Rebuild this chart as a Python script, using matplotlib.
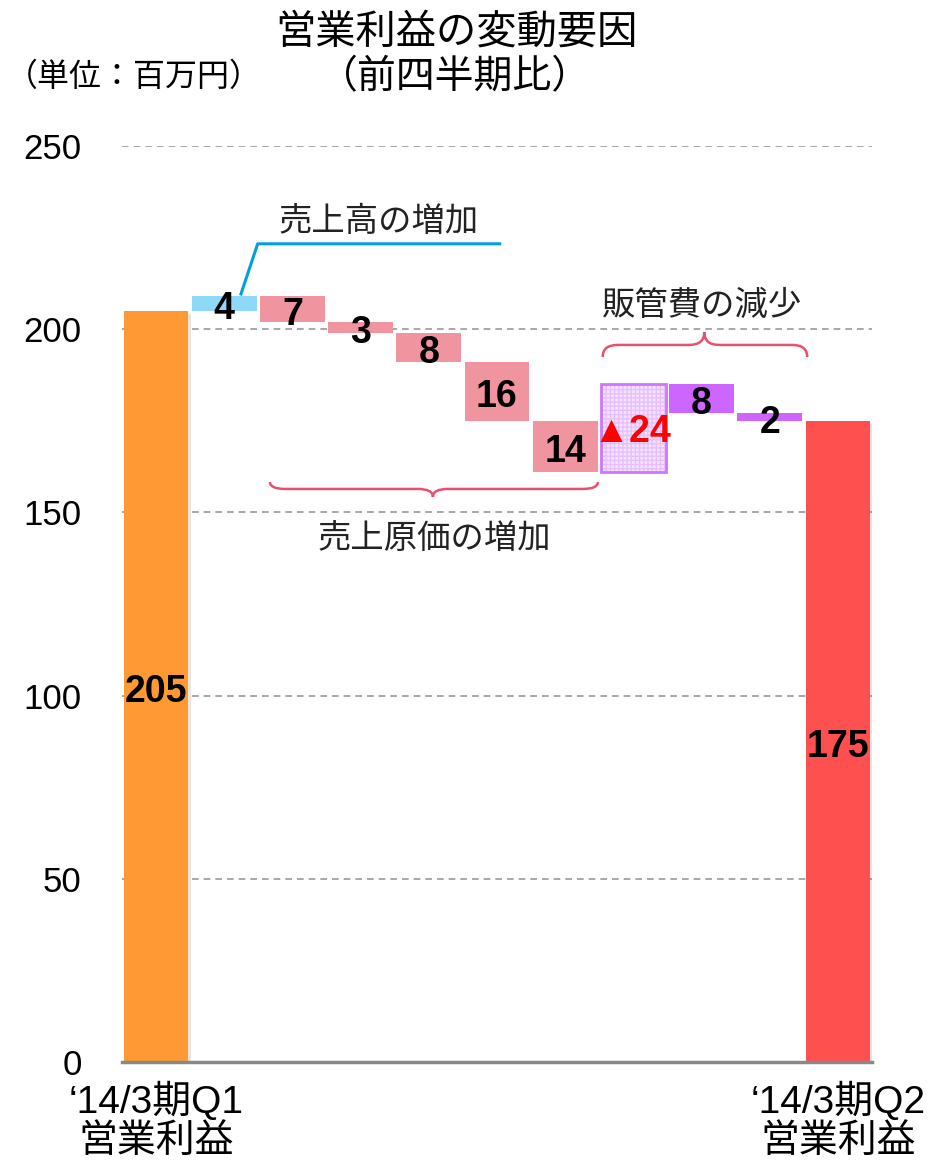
import matplotlib
matplotlib.use('Agg')
import matplotlib.pyplot as plt
import matplotlib.patheffects as pe
from matplotlib.path import Path
from matplotlib.patches import PathPatch
import numpy as np

plt.rcParams['font.family'] = ['Liberation Sans', 'Noto Sans CJK JP', 'DejaVu Sans']

## data
start_value = 205
end_value = 175
changes = [4, -7, -3, -8, -16, -14, 24, -8, -2]
change_labels = ['4', '7', '3', '8', '16', '14', '▲24', '8', '2']
tick_labels = ['‘14/3期Q1\n営業利益', '‘14/3期Q2\n営業利益']
yticks = [0, 50, 100, 150, 200, 250]

bar_colors = ['#FF9933', '#8FD9F8', '#F0959F', '#F0959F', '#F0959F', '#F0959F', '#F0959F',
              '#F5E1FF', '#CC66FF', '#CC66FF', '#FF5050']

## build waterfall bottoms / heights
heights = [start_value]
bottoms = [0]
level = start_value
for c in changes:
    if c >= 0:
        bottoms.append(level)
    else:
        bottoms.append(level + c)
    heights.append(abs(c))
    level += c
heights.append(end_value)
bottoms.append(0)
x = np.arange(len(heights))

fig = plt.figure(figsize=(9.42, 11.65), dpi=100)
ax = fig.add_axes([0.1295, 0.0884, 0.7962, 0.7863])

w = 0.95
shadow = [pe.SimplePatchShadow(offset=(2, -2), alpha=0.12), pe.Normal()]
for i in range(len(heights)):
    if i == 7:
        # hatched bar
        ax.bar(x[i], heights[i], w, bottom=bottoms[i], color='#F6E4FF',
               hatch='++++', edgecolor='#E6BFFF', linewidth=0, zorder=3)
        ax.bar(x[i], heights[i], w, bottom=bottoms[i], fill=False,
               edgecolor='#CC77FF', linewidth=2, zorder=4)
    else:
        b = ax.bar(x[i], heights[i], w, bottom=bottoms[i], color=bar_colors[i],
                   linewidth=0, zorder=3)
        if i in (0, len(heights) - 1):
            b[0].set_path_effects(shadow)

# labels
dy = -1.5
ax.text(x[0], start_value / 2 + dy, str(start_value), ha='center', va='center',
        fontsize=27, fontweight='bold', zorder=6)
ax.text(x[-1], end_value / 2 + dy, str(end_value), ha='center', va='center',
        fontsize=27, fontweight='bold', zorder=6)
for i, lab in enumerate(change_labels):
    xi = x[i + 1]
    yc = bottoms[i + 1] + heights[i + 1] / 2 + dy
    if lab.startswith('▲'):
        ax.text(6.98, 172.0, lab, ha='center', va='center', fontsize=27,
                fontweight='bold', color='red', zorder=6,
                family=['Liberation Sans', 'DejaVu Sans'])
        continue
    ax.text(xi, yc, lab, ha='center', va='center', fontsize=27,
            fontweight='bold', color='black', zorder=6)

# axes styling
ax.set_xlim(-0.5, 10.5)
ax.set_ylim(0, 250)
ax.set_yticks(yticks)
ax.set_yticklabels([str(v) for v in yticks], fontsize=25)
ax.set_xticks([x[0], x[-1]])
ax.set_xticklabels(tick_labels, fontsize=28, linespacing=1.1)
ax.tick_params(axis='both', length=0)
ax.tick_params(axis='y', pad=29)
ax.tick_params(axis='x', pad=14)
for s in ['top', 'right', 'left']:
    ax.spines[s].set_visible(False)
ax.spines['bottom'].set_color('#888888')
ax.spines['bottom'].set_linewidth(2.5)
ax.spines['bottom'].set_zorder(5)
ax.set_axisbelow(True)
ax.yaxis.grid(True, color='#999999', linestyle=(0, (4, 3)), linewidth=1.2)


def brace(ax, x0, x1, xt, y_end, y_h, y_tip, color):
    r = 0.22
    verts = [(x0, y_end), (x0, y_h), (x0 + r, y_h),
             (xt - r, y_h), (xt, y_h), (xt, y_tip),
             (xt, y_h), (xt + r, y_h),
             (x1 - r, y_h), (x1, y_h), (x1, y_end)]
    codes = [Path.MOVETO, Path.CURVE3, Path.CURVE3,
             Path.LINETO, Path.CURVE3, Path.CURVE3,
             Path.CURVE3, Path.CURVE3,
             Path.LINETO, Path.CURVE3, Path.CURVE3]
    ax.add_patch(PathPatch(Path(verts, codes), fill=False, edgecolor=color,
                           linewidth=1.8, clip_on=False, zorder=6))


brace(ax, 1.67, 6.48, 4.06, 158.3, 156.4, 154.2, '#E8506E')
brace(ax, 6.55, 9.55, 8.04, 192.4, 195.7, 199.2, '#E8506E')

# call-out for sales increase
ax.plot([5.04, 1.49, 1.245], [223.3, 223.3, 209.6], color='#00A0E0',
        linewidth=2.2, zorder=6, clip_on=False)

ann_font = ['Noto Sans CJK JP', 'DejaVu Sans']
ax.text(3.27, 229.3, '売上高の増加', ha='center', va='center', fontsize=24,
        color='#222222', family=ann_font)
ax.text(4.08, 143.0, '売上原価の増加', ha='center', va='center', fontsize=24,
        color='#222222', family=ann_font)
ax.text(8.01, 206.6, '販管費の減少', ha='center', va='center', fontsize=24,
        color='#222222', family=ann_font)

# titles
fig.text(0.485, 0.9725, '営業利益の変動要因', ha='center', va='center', fontsize=29,
         family=ann_font)
fig.text(0.483, 0.934, '（前四半期比）', ha='center', va='center', fontsize=28,
         family=ann_font)
fig.text(0.006, 0.934, '（単位：百万円）', ha='left', va='center', fontsize=23,
         family=ann_font)

fig.savefig('out.png', dpi=100)
